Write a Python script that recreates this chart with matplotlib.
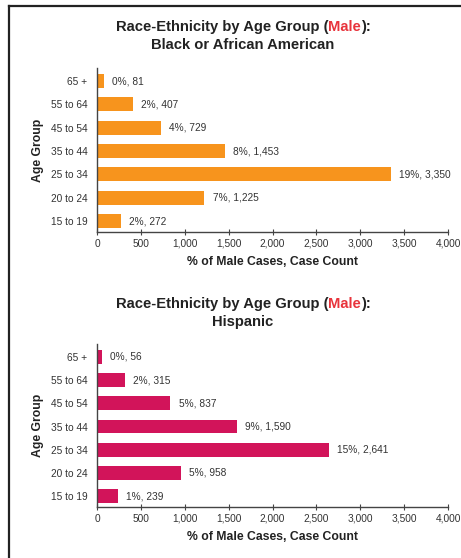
import matplotlib
matplotlib.use("Agg")
import matplotlib.pyplot as plt
from matplotlib.lines import Line2D

plt.rcParams["font.family"] = ["Liberation Sans", "DejaVu Sans"]

AGE_GROUPS = ["15 to 19", "20 to 24", "25 to 34", "35 to 44", "45 to 54", "55 to 64", "65 +"]

BLACK_COUNTS = [272, 1225, 3350, 1453, 729, 407, 81]
BLACK_PCT = [2, 7, 19, 8, 4, 2, 0]

HISP_COUNTS = [239, 958, 2641, 1590, 837, 315, 56]
HISP_PCT = [1, 5, 15, 9, 5, 2, 0]

X_TICKS = [0, 500, 1000, 1500, 2000, 2500, 3000, 3500, 4000]

ORANGE = "#F7941D"
CRIMSON = "#D2145A"
RED = "#E8343C"
TEXT = "#333333"

W, H = 461, 558
fig = plt.figure(figsize=(W / 100, H / 100), dpi=100)
fig.patch.set_facecolor("white")

# frame around the page (only top and left edges visible)
fig.add_artist(Line2D([9 / W, 9 / W], [0, 1 - 6 / H], color="#222222", lw=1.6))
fig.add_artist(Line2D([9 / W, 1], [1 - 6 / H, 1 - 6 / H], color="#222222", lw=1.6))


def title_line(y_px, parts, size=10.6, cx_px=243):
    renderer = fig.canvas.get_renderer()
    texts = [fig.text(0, 1 - y_px / H, s, color=c, fontsize=size, fontweight="bold",
                      ha="left", va="center") for s, c in parts]
    widths = [t.get_window_extent(renderer).width for t in texts]
    x = cx_px - sum(widths) / 2
    for t, w in zip(texts, widths):
        t.set_x(x / W)
        x += w


def panel(rect, counts, pct, color, subtitle, title_y):
    ax = fig.add_axes(rect)
    y = range(len(AGE_GROUPS))
    ax.barh(y, counts, height=0.6, color=color, zorder=2)
    for yi, c, p in zip(y, counts, pct):
        ax.annotate(f"{p}%, {c:,}", xy=(c, yi), xytext=(6, 0), textcoords="offset points",
                    ha="left", va="center", fontsize=7.3, color=TEXT)
    ax.set_xlim(0, 4000)
    ax.set_ylim(-0.47, 6.56)
    ax.set_xticks(X_TICKS)
    ax.set_xticklabels([f"{v:,}" for v in X_TICKS])
    ax.set_yticks(list(y))
    ax.set_yticklabels(AGE_GROUPS)
    ax.tick_params(axis="x", direction="inout", length=4, width=0.8, color="#444444",
                   labelsize=7.3, labelcolor=TEXT, pad=3)
    ax.tick_params(axis="y", length=0, labelsize=7.3, labelcolor=TEXT, pad=7)
    for side in ("top", "right"):
        ax.spines[side].set_visible(False)
    for side in ("left", "bottom"):
        ax.spines[side].set_color("#444444")
        ax.spines[side].set_linewidth(1.0)
    ax.set_xlabel("% of Male Cases, Case Count", fontsize=8.8, fontweight="bold",
                  color="#222222", labelpad=5)
    ax.set_ylabel("Age Group", fontsize=8.8, fontweight="bold", color="#222222", labelpad=5)
    title_line(title_y, [("Race-Ethnicity by Age Group (", "#222222"), ("Male", RED),
                         ("):", "#222222")])
    title_line(title_y + 18, [(subtitle, "#222222")])
    return ax


panel([97 / W, 1 - 232 / H, 351 / W, 164 / H], BLACK_COUNTS, BLACK_PCT, ORANGE,
      "Black or African American", 27)
panel([97 / W, 1 - 507 / H, 351 / W, 163 / H], HISP_COUNTS, HISP_PCT, CRIMSON,
      "Hispanic", 304)

fig.savefig("out.png", dpi=100)
